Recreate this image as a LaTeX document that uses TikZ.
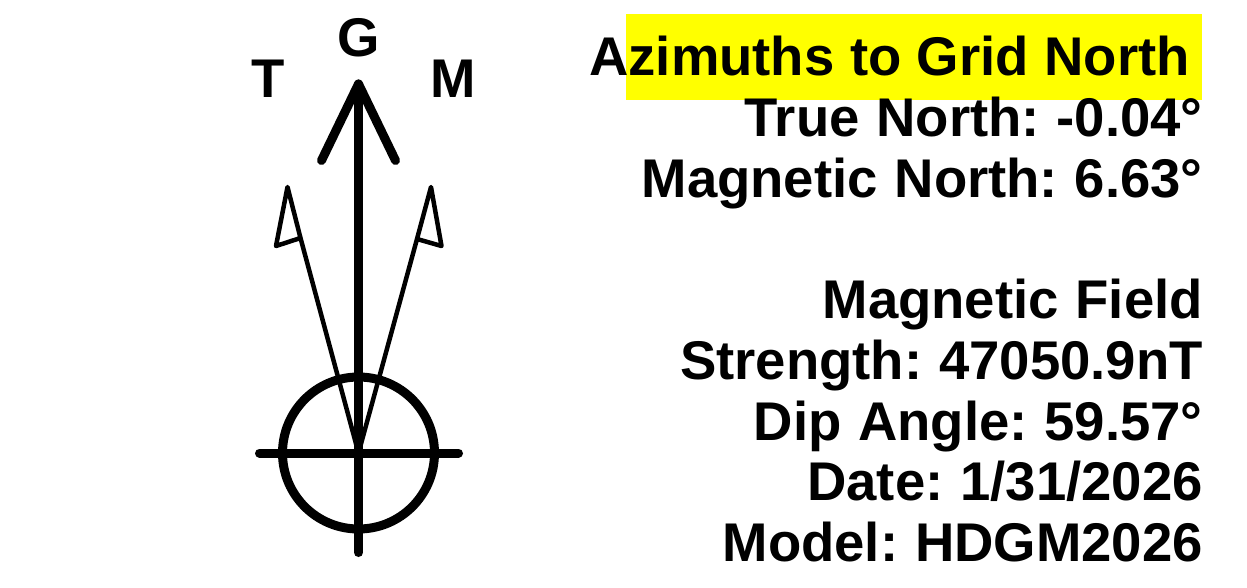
\documentclass[tikz,border=0pt]{standalone}
\usepackage{fontspec}
\setmainfont{Liberation Sans}
\usepackage{xcolor}
\usetikzlibrary{positioning}
\definecolor{marker}{HTML}{FFFF00}
\frenchspacing
\begin{document}
\begin{tikzpicture}[x=1pt,y=-1pt,
  info/.style={font=\fontsize{54.5}{54.5}\bfseries\selectfont,execute at begin node={\setlength{\spaceskip}{16.8pt}},anchor=base east,inner sep=0pt},
  heading/.style={font=\fontsize{54.5}{54.5}\bfseries\selectfont,execute at begin node={\setlength{\spaceskip}{15.5pt}},anchor=base east,inner sep=0pt},
  letter/.style={font=\fontsize{54.5}{54.5}\bfseries\selectfont,anchor=base,inner sep=0pt},
  thick line/.style={draw=black,line width=9pt,line cap=round,line join=round},
  thin line/.style={draw=black,line width=4.5pt,line cap=round,line join=round}
]
\useasboundingbox (0,0) rectangle (1247,588);
\fill[fill=marker] (626,14) rectangle (1202,100);
% north arrows
\coordinate (origin) at (358.5,453);
\coordinate (gtip) at (358.5,84);
\coordinate (gbottom) at (358.5,552.5);
\coordinate (gleft) at (321.5,160.5);
\coordinate (gright) at (395.5,160.5);
\coordinate (cwest) at (259.5,453);
\coordinate (ceast) at (458.5,453);
\draw[thick line] (gbottom) -- (gtip);
\draw[thick line] (gleft) -- (gtip) -- (gright);
\draw[thick line] (cwest) -- (ceast);
\node[circle,draw=black,line width=9pt,minimum size=152pt,inner sep=0pt] (ring) at (origin) {};
\coordinate (ttip) at (287.5,187);
\coordinate (tbarb) at (276,246);
\coordinate (tneck) at (300.5,238);
\coordinate (mtip) at (431,187);
\coordinate (mbarb) at (441.5,246);
\coordinate (mneck) at (417,239);
\draw[thin line] (origin) -- (tneck) -- (ttip) -- (tbarb) -- (tneck);
\draw[thin line] (origin) -- (mneck) -- (mtip) -- (mbarb) -- (mneck);
\node[letter] (glabel) at (359,57) {G};
\node[letter] (tlabel) at (268.5,98) {T};
\node[letter] (mlabel) at (453,98) {M};
% text block
\node[heading] (title) at (1190,76) {Azimuths to Grid North};
\node[info] (truenorth) at (1203,137) {True North: -0.04°};
\node[info] (magnorth) at (1203,197) {Magnetic North: 6.63°};
\node[info] (field) at (1203,318) {Magnetic Field};
\node[info] (strength) at (1203,379) {Strength: 47050.9nT};
\node[info] (dip) at (1203,440) {Dip Angle: 59.57°};
\node[info] (date) at (1203,500) {Date: 1/31/2026};
\node[info] (model) at (1203,561) {Model: HDGM2026};
\end{tikzpicture}
\end{document}
